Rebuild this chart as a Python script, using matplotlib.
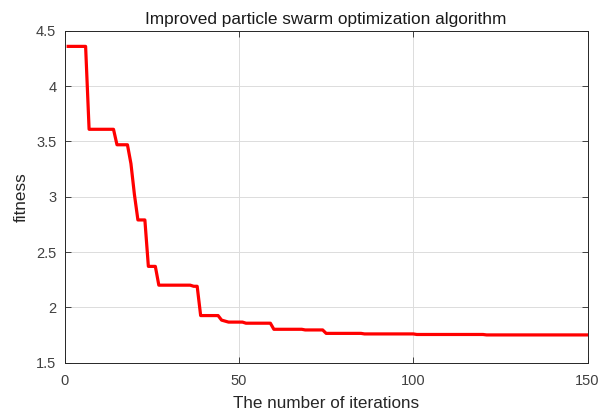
import matplotlib
matplotlib.use("Agg")
import matplotlib.pyplot as plt
from matplotlib.ticker import FuncFormatter

# 最优适应度随迭代变化
iterations = list(range(1, 151))
fitness = (
    [4.36] * 6            # 1-6
    + [3.61] * 8          # 7-14
    + [3.47] * 4          # 15-18
    + [3.30, 3.02]        # 19-20
    + [2.79] * 3          # 21-23
    + [2.37] * 3          # 24-26
    + [2.20] * 10         # 27-36
    + [2.19] * 2          # 37-38
    + [1.925] * 6         # 39-44
    + [1.884, 1.875]      # 45-46
    + [1.866] * 5         # 47-51
    + [1.856] * 8         # 52-59
    + [1.801] * 9         # 60-68
    + [1.795] * 6         # 69-74
    + [1.764] * 11        # 75-85
    + [1.759] * 15        # 86-100
    + [1.754] * 20        # 101-120
    + [1.750] * 30        # 121-150
)

x_ticks = [0, 50, 100, 150]
y_ticks = [1.5, 2, 2.5, 3, 3.5, 4, 4.5]

title = "Improved particle swarm optimization algorithm"
x_label = "The number of iterations"
y_label = "fitness"

plt.rcParams["font.family"] = ["Liberation Sans", "DejaVu Sans"]

fig = plt.figure(figsize=(5.99, 4.12), dpi=100)
ax = fig.add_axes([0.108, 0.120, 0.873, 0.805])

ax.plot(iterations, fitness, color="red", linewidth=2.3)

ax.set_xlim(0, 150)
ax.set_ylim(1.5, 4.5)
ax.set_xticks(x_ticks)
ax.set_yticks(y_ticks)
ax.yaxis.set_major_formatter(FuncFormatter(lambda v, _: f"{v:g}"))

ax.grid(True, color="#dcdcdc", linewidth=0.7)
ax.set_axisbelow(True)
ax.tick_params(direction="in", top=True, right=True, length=4,
               colors="#262626", labelcolor="#404040", labelsize=10.5, width=0.6)
ax.tick_params(axis="x", pad=8)
ax.tick_params(axis="y", pad=6)
for s in ax.spines.values():
    s.set_color("#262626")
    s.set_linewidth(0.7)

ax.set_title(title, fontsize=12.4, color="#1a1a1a", pad=5)
ax.set_xlabel(x_label, fontsize=12.3, color="#262626", labelpad=6)
ax.set_ylabel(y_label, fontsize=12.3, color="#262626", labelpad=5)

fig.savefig("out.png", dpi=100)
